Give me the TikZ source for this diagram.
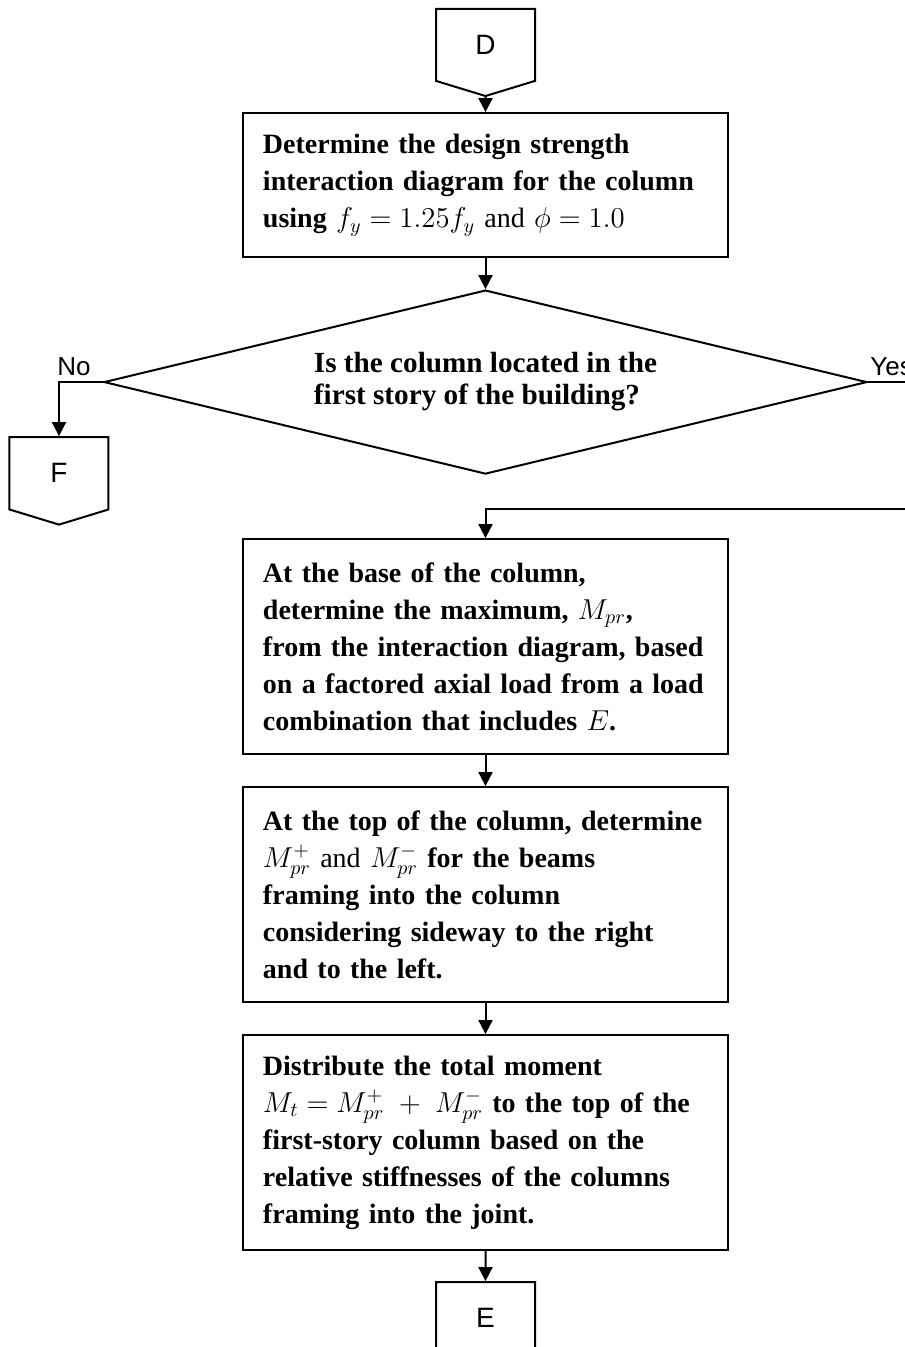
\documentclass[tikz,border=0pt]{standalone}
\usepackage{fontspec}
\setmainfont{Liberation Serif}
\newfontfamily\sansfont{Liberation Sans}
\usetikzlibrary{arrows.meta,positioning,shapes.geometric,shapes.symbols}

\begin{document}
\begin{tikzpicture}[
        node distance=15.5pt,
        paso/.style={draw, line width=1pt, align=left, text width=222.5pt, inner xsep=10pt, minimum height=107.5pt, font=\bfseries\fontsize{14}{18.5}\selectfont},
        decision/.style={draw, diamond, aspect=4.15, line width=1pt, inner sep=0pt, minimum width=381.5pt, minimum height=92pt, align=left, font=\bfseries\fontsize{14.6}{16}\selectfont},
        conector/.style={draw, signal, signal to=south, signal pointer angle=146, line width=1pt, minimum width=49.5pt, minimum height=37.5pt, inner sep=0pt, font=\sansfont\fontsize{14}{16}\selectfont},
        etiqueta/.style={font=\sansfont\fontsize{13}{15}\selectfont, inner sep=1pt},
        flecha/.style={-{Triangle[length=7pt, width=7pt]}, line width=1pt}
    ]
        \useasboundingbox (-242.75pt,4pt) rectangle (209.25pt,-669.5pt);

        \node[conector, anchor=north] (d) at (0,0) {D};
        \node[paso, below=7.5pt of d, minimum height=72pt] (p1) {Determine the design strength\\interaction diagram for the column\\using $f_y = 1.25f_y$ {\mdseries and} $\phi = 1.0$};
        \node[decision, below=of p1] (dec) {Is the column located in the\\first story of the building?};
        \node[conector, below=27pt of dec.west, xshift=-22pt] (f) {F};

        \node[paso, below=31.5pt of dec] (p2) {At the base of the column,\\determine the maximum, $M_{pr}$,\\from the interaction diagram, based\\on a factored axial load from a load\\combination that includes $E$.};
        \node[paso, below=of p2] (p3) {At the top of the column, determine\\$M^+_{pr}$ {\mdseries and} $M^-_{pr}$ for the beams\\framing into the column\\considering sideway to the right\\and to the left.};
        \node[paso, below=of p3] (p4) {Distribute the total moment\\$M_t = M^+_{pr} \;+\; M^-_{pr}$ to the top of the\\first-story column based on the\\relative stiffnesses of the columns\\framing into the joint.};
        \node[conector, below=15pt of p4] (e) {E};

        \node[etiqueta, above left=2pt and 5pt of dec.west] (no) {No};
        \node[etiqueta, above right=2pt and 0pt of dec.east] (yes) {Yes};
        \coordinate[above=14.5pt of p2] (ret);

        \draw[flecha] (d) -- (p1);
        \draw[flecha] (p1) -- (dec);
        \draw[flecha] (dec.west) -| (f);
        \draw[flecha] (dec.east) -- ++(40pt,0) |- (ret) -- (p2);
        \draw[flecha] (p2) -- (p3);
        \draw[flecha] (p3) -- (p4);
        \draw[flecha] (p4) -- (e);
    \end{tikzpicture}
\end{document}
